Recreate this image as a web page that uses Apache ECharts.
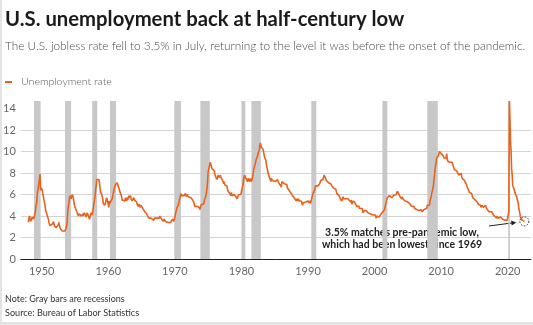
<!DOCTYPE html>
<html><head><meta charset="utf-8">
<script src="https://cdn.jsdelivr.net/npm/echarts@6/dist/echarts.min.js"></script>
<style>html,body{margin:0;padding:0;background:#fff}#c{width:533px;height:325px}</style>
</head><body><div id="c"></div>
<script>
// ---------------- DATA ----------------
const firstYear = 1948;
// Monthly U.S. unemployment rate (%), Jan..Dec per year, 1948 .. Jul 2022
const monthlyRates = [
[3.4,3.8,4.0,3.9,3.5,3.6,3.6,3.9,3.8,3.7,3.8,4.0],
[4.3,4.7,5.0,5.3,6.1,6.2,6.7,6.8,6.6,7.9,6.4,6.6],
[6.5,6.4,6.3,5.8,5.5,5.4,5.0,4.5,4.4,4.2,4.2,4.3],
[3.7,3.4,3.4,3.1,3.0,3.2,3.1,3.1,3.3,3.5,3.5,3.1],
[3.2,3.1,2.9,2.9,3.0,3.0,3.2,3.4,3.1,3.0,2.8,2.7],
[2.9,2.6,2.6,2.7,2.5,2.5,2.6,2.7,2.9,3.1,3.5,4.5],
[4.9,5.2,5.7,5.9,5.9,5.6,5.8,6.0,6.1,5.7,5.3,5.0],
[4.9,4.7,4.6,4.7,4.3,4.2,4.0,4.2,4.1,4.3,4.2,4.2],
[4.0,3.9,4.2,4.0,4.3,4.3,4.4,4.1,3.9,3.9,4.3,4.2],
[4.2,3.9,3.7,3.9,4.1,4.3,4.2,4.1,4.4,4.5,5.1,5.2],
[5.8,6.4,6.7,7.4,7.4,7.3,7.5,7.4,7.1,6.7,6.2,6.2],
[6.0,5.9,5.6,5.2,5.1,5.0,5.1,5.2,5.5,5.7,5.8,5.3],
[5.2,4.8,5.4,5.2,5.1,5.4,5.5,5.6,5.5,6.1,6.1,6.6],
[6.6,6.9,6.9,7.0,7.1,6.9,7.0,6.6,6.7,6.5,6.1,6.0],
[5.8,5.5,5.6,5.6,5.5,5.5,5.4,5.7,5.6,5.4,5.7,5.5],
[5.7,5.9,5.7,5.7,5.9,5.6,5.6,5.4,5.5,5.5,5.7,5.5],
[5.6,5.4,5.4,5.3,5.1,5.2,4.9,5.0,5.1,5.1,4.8,5.0],
[4.9,5.1,4.7,4.8,4.6,4.6,4.4,4.4,4.3,4.2,4.1,4.0],
[4.0,3.8,3.8,3.8,3.9,3.8,3.8,3.8,3.7,3.7,3.6,3.8],
[3.9,3.8,3.8,3.8,3.8,3.9,3.8,3.8,3.8,4.0,3.9,3.8],
[3.7,3.8,3.7,3.5,3.5,3.7,3.7,3.5,3.4,3.4,3.4,3.4],
[3.4,3.4,3.4,3.4,3.4,3.5,3.5,3.5,3.7,3.7,3.5,3.5],
[3.9,4.2,4.4,4.6,4.8,4.9,5.0,5.1,5.4,5.5,5.9,6.1],
[5.9,5.9,6.0,5.9,5.9,5.9,6.0,6.1,6.0,5.8,6.0,6.0],
[5.8,5.7,5.8,5.7,5.7,5.7,5.6,5.6,5.5,5.6,5.3,5.2],
[4.9,5.0,4.9,5.0,4.9,4.9,4.8,4.8,4.8,4.6,4.8,4.9],
[5.1,5.2,5.1,5.1,5.1,5.4,5.5,5.5,5.9,6.0,6.6,7.2],
[8.1,8.1,8.6,8.8,9.0,8.8,8.6,8.4,8.4,8.4,8.3,8.2],
[7.9,7.7,7.6,7.7,7.4,7.6,7.8,7.8,7.6,7.7,7.8,7.8],
[7.5,7.6,7.4,7.2,7.0,7.2,6.9,7.0,6.8,6.8,6.8,6.4],
[6.4,6.3,6.3,6.1,6.0,5.9,6.2,5.9,6.0,5.8,5.9,6.0],
[5.9,5.9,5.8,5.8,5.6,5.7,5.7,6.0,5.9,6.0,5.9,6.0],
[6.3,6.3,6.3,6.9,7.5,7.6,7.8,7.7,7.5,7.5,7.5,7.2],
[7.5,7.4,7.4,7.2,7.5,7.5,7.2,7.4,7.6,7.9,8.3,8.5],
[8.6,8.9,9.0,9.3,9.4,9.6,9.8,9.8,10.1,10.4,10.8,10.8],
[10.4,10.4,10.3,10.2,10.1,10.1,9.4,9.5,9.2,8.8,8.5,8.3],
[8.0,7.8,7.8,7.7,7.4,7.2,7.5,7.5,7.3,7.4,7.2,7.3],
[7.3,7.2,7.2,7.3,7.2,7.4,7.4,7.1,7.1,7.1,7.0,7.0],
[6.7,7.2,7.2,7.1,7.2,7.2,7.0,6.9,7.0,7.0,6.9,6.6],
[6.6,6.6,6.6,6.3,6.3,6.2,6.1,6.0,5.9,6.0,5.8,5.7],
[5.7,5.7,5.7,5.4,5.6,5.4,5.4,5.6,5.4,5.4,5.3,5.3],
[5.4,5.2,5.0,5.2,5.2,5.3,5.2,5.2,5.3,5.3,5.4,5.4],
[5.4,5.3,5.2,5.4,5.4,5.2,5.5,5.7,5.9,5.9,6.2,6.3],
[6.4,6.6,6.8,6.7,6.9,6.9,6.8,6.9,6.9,7.0,7.0,7.3],
[7.3,7.4,7.4,7.4,7.6,7.8,7.7,7.6,7.6,7.3,7.4,7.4],
[7.3,7.1,7.0,7.1,7.1,7.0,6.9,6.8,6.7,6.8,6.6,6.5],
[6.6,6.6,6.5,6.4,6.1,6.1,6.1,6.0,5.9,5.8,5.6,5.5],
[5.6,5.4,5.4,5.8,5.6,5.6,5.7,5.7,5.6,5.5,5.6,5.6],
[5.6,5.5,5.5,5.6,5.6,5.3,5.5,5.1,5.2,5.2,5.4,5.4],
[5.3,5.2,5.2,5.1,4.9,5.0,4.9,4.8,4.9,4.7,4.6,4.7],
[4.6,4.6,4.7,4.3,4.4,4.5,4.5,4.5,4.6,4.5,4.4,4.4],
[4.3,4.4,4.2,4.3,4.2,4.3,4.3,4.2,4.2,4.1,4.1,4.0],
[4.0,4.1,4.0,3.8,4.0,4.0,4.0,4.1,3.9,3.9,3.9,3.9],
[4.2,4.2,4.3,4.4,4.3,4.5,4.6,4.9,5.0,5.3,5.5,5.7],
[5.7,5.7,5.7,5.9,5.8,5.8,5.8,5.7,5.7,5.7,5.9,6.0],
[5.8,5.9,5.9,6.0,6.1,6.3,6.2,6.1,6.1,6.0,5.8,5.7],
[5.7,5.6,5.8,5.6,5.6,5.6,5.5,5.4,5.4,5.5,5.4,5.4],
[5.3,5.4,5.2,5.2,5.1,5.0,5.0,4.9,5.0,5.0,5.0,4.9],
[4.7,4.8,4.7,4.7,4.6,4.6,4.7,4.7,4.5,4.4,4.5,4.4],
[4.6,4.5,4.4,4.5,4.4,4.6,4.7,4.6,4.7,4.7,4.7,5.0],
[5.0,4.9,5.1,5.0,5.4,5.6,5.8,6.1,6.1,6.5,6.8,7.3],
[7.8,8.3,8.7,9.0,9.4,9.5,9.5,9.6,9.8,10.0,9.9,9.9],
[9.8,9.8,9.9,9.9,9.6,9.4,9.4,9.5,9.5,9.4,9.8,9.3],
[9.1,9.0,9.0,9.1,9.0,9.1,9.0,9.0,9.0,8.8,8.6,8.5],
[8.3,8.3,8.2,8.2,8.2,8.2,8.2,8.1,7.8,7.8,7.7,7.9],
[8.0,7.7,7.5,7.6,7.5,7.5,7.3,7.2,7.2,7.2,6.9,6.7],
[6.6,6.7,6.7,6.2,6.3,6.1,6.2,6.1,5.9,5.7,5.8,5.6],
[5.7,5.5,5.4,5.4,5.6,5.3,5.2,5.1,5.0,5.0,5.1,5.0],
[4.8,4.9,5.0,5.1,4.8,4.9,4.8,4.9,5.0,4.9,4.7,4.7],
[4.7,4.6,4.4,4.4,4.4,4.3,4.3,4.4,4.3,4.2,4.2,4.1],
[4.0,4.1,4.0,4.0,3.8,4.0,3.8,3.8,3.7,3.8,3.8,3.9],
[4.0,3.8,3.8,3.7,3.6,3.6,3.7,3.6,3.5,3.6,3.6,3.6],
[3.5,3.5,4.4,14.7,13.2,11.0,10.2,8.4,7.9,6.9,6.7,6.7],
[6.4,6.2,6.1,6.1,5.8,5.9,5.4,5.2,4.7,4.5,4.2,3.9],
[4.0,3.8,3.6,3.6,3.6,3.6,3.5]
];
// NBER recessions (first month, last month)
const recessionStarts = ['1948-11','1953-07','1957-08','1960-04','1969-12','1973-11','1980-01','1981-07','1990-07','2001-03','2007-12','2020-02'];
const recessionEnds   = ['1949-10','1954-05','1958-04','1961-02','1970-11','1975-03','1980-07','1982-11','1991-03','2001-11','2009-06','2020-04'];
const xTickLabels = [1950,1960,1970,1980,1990,2000,2010,2020];
const yTickLabels = [0,2,4,6,8,10,12,14];
const highlightPoint = {month: '2022-07', value: 3.5};

// ---------------- HELPERS ----------------
const FONT = 'Lato, "Noto Sans", sans-serif';
function ym(s, endOfMonth) {
  const [y, m] = s.split('-').map(Number);
  return y + (m - 1 + (endOfMonth ? 1 : 0)) / 12;
}
const measureCtx = document.createElement('canvas').getContext('2d');
function fit(text, weight, target, base) {
  measureCtx.font = weight + ' ' + base + 'px ' + FONT;
  const w = measureCtx.measureText(text).width;
  return Math.round(base * target / w * 10) / 10;
}

const seriesData = [];
monthlyRates.forEach((row, i) => row.forEach((v, j) => seriesData.push([firstYear + i + j / 12, v])));
const areas = recessionStarts.map((s, i) => [{xAxis: ym(s)}, {xAxis: ym(recessionEnds[i], true)}]);
const hx = ym(highlightPoint.month);

const chart = echarts.init(document.getElementById('c'), null, {renderer: 'canvas'});

const titleText = 'U.S. unemployment back at half-century low';
const subText = 'The U.S. jobless rate fell to 3.5% in July, returning to the level it was before the onset of the pandemic.';
const legendText = 'Unemployment rate';
const noteText = 'Note: Gray bars are recessions';
const srcText = 'Source: Bureau of Labor Statistics';
const ann1 = '3.5% matches pre-pandemic low,';
const ann2 = 'which had been lowest since 1969';

const option = {
  animation: false,
  backgroundColor: '#fff',
  grid: {left: 20, right: 2, top: 101, bottom: 66, containLabel: false},
  xAxis: {
    type: 'value', min: 1946.85, max: 2023.5, z: 5,
    axisLine: {show: true, lineStyle: {color: '#222', width: 1}},
    axisTick: {show: false},
    splitLine: {show: false},
    axisLabel: {customValues: xTickLabels, color: '#666', fontFamily: FONT, fontSize: 11, margin: 7,
      formatter: v => String(v)}
  },
  yAxis: {
    type: 'value', min: 0, max: 14.7,
    axisLine: {show: false},
    axisTick: {show: false, customValues: yTickLabels},
    splitLine: {show: true, showMaxLine: false, lineStyle: {color: '#d4d4d4', width: 1}},
    axisLabel: {customValues: yTickLabels, color: '#666', fontFamily: FONT, fontSize: 11, margin: 5}
  },
  series: [{
    type: 'line', name: legendText, data: seriesData, showSymbol: false,
    lineStyle: {color: '#e8621d', width: 1.6}, itemStyle: {color: '#e8621d'},
    z: 3,
    markArea: {silent: true, itemStyle: {color: '#c8c8c8', opacity: 1}, data: areas, z: 1},
    markPoint: {
      silent: true, symbol: 'circle', symbolSize: 9,
      itemStyle: {color: 'rgba(0,0,0,0)', borderColor: '#222', borderWidth: 1, borderType: [1.5, 1.5]},
      label: {show: false},
      data: [{coord: [hx, highlightPoint.value]}]
    }
  }]
};
chart.setOption(option);

const c = chart.convertToPixel({gridIndex: 0}, [hx, highlightPoint.value]);
const ax0 = 489, ay0 = 226;
const ax1 = c[0] - 8, ay1 = c[1] + 1;
const ang = Math.atan2(ay1 - ay0, ax1 - ax0);
const hl = 5, hw = 2.5;
const head = [
  [ax1, ay1],
  [ax1 - hl * Math.cos(ang) + hw * Math.sin(ang), ay1 - hl * Math.sin(ang) - hw * Math.cos(ang)],
  [ax1 - hl * Math.cos(ang) - hw * Math.sin(ang), ay1 - hl * Math.sin(ang) + hw * Math.cos(ang)]
];

chart.setOption({
  graphic: [
    {type: 'rect', shape: {x: 0, y: 0, width: 2, height: 325}, style: {fill: '#e3e3e3'}, silent: true},
    {type: 'rect', shape: {x: 0, y: 322, width: 533, height: 3}, style: {fill: '#e3e3e3'}, silent: true},
    {type: 'text', left: 5, top: 9, style: {text: titleText, font: 'bold ' + fit(titleText, 'bold', 400, 20) + 'px ' + FONT, fill: '#1a1a1a'}},
    {type: 'text', left: 5, top: 40, style: {text: subText, font: '300 ' + fit(subText, '300', 522, 12) + 'px ' + FONT, fill: '#4a4a4a'}},
    {type: 'rect', shape: {x: 5, y: 81, width: 7, height: 2}, style: {fill: '#e8621d'}},
    {type: 'text', x: 21, y: 82, style: {text: legendText, font: '300 ' + fit(legendText, '300', 91, 11) + 'px ' + FONT, fill: '#555', textVerticalAlign: 'middle'}},
    {type: 'text', x: 5, y: 299, style: {text: noteText, font: fit(noteText, 'normal', 119, 10) + 'px ' + FONT, fill: '#333', textVerticalAlign: 'middle'}},
    {type: 'text', x: 5, y: 313, style: {text: srcText, font: fit(srcText, 'normal', 134, 10) + 'px ' + FONT, fill: '#333', textVerticalAlign: 'middle'}},
    {type: 'text', x: 402, y: 233, style: {text: ann1, font: 'bold ' + fit(ann2, 'bold', 160, 11) + 'px ' + FONT, fill: '#222', textAlign: 'center', textVerticalAlign: 'middle'}},
    {type: 'text', x: 402, y: 245, style: {text: ann2, font: 'bold ' + fit(ann2, 'bold', 160, 11) + 'px ' + FONT, fill: '#222', textAlign: 'center', textVerticalAlign: 'middle'}},
    {type: 'line', shape: {x1: ax0, y1: ay0, x2: ax1 - 3 * Math.cos(ang), y2: ay1 - 3 * Math.sin(ang)}, style: {stroke: '#222', lineWidth: 1}},
    {type: 'polygon', shape: {points: head}, style: {fill: '#222'}}
  ]
});
</script></body></html>
